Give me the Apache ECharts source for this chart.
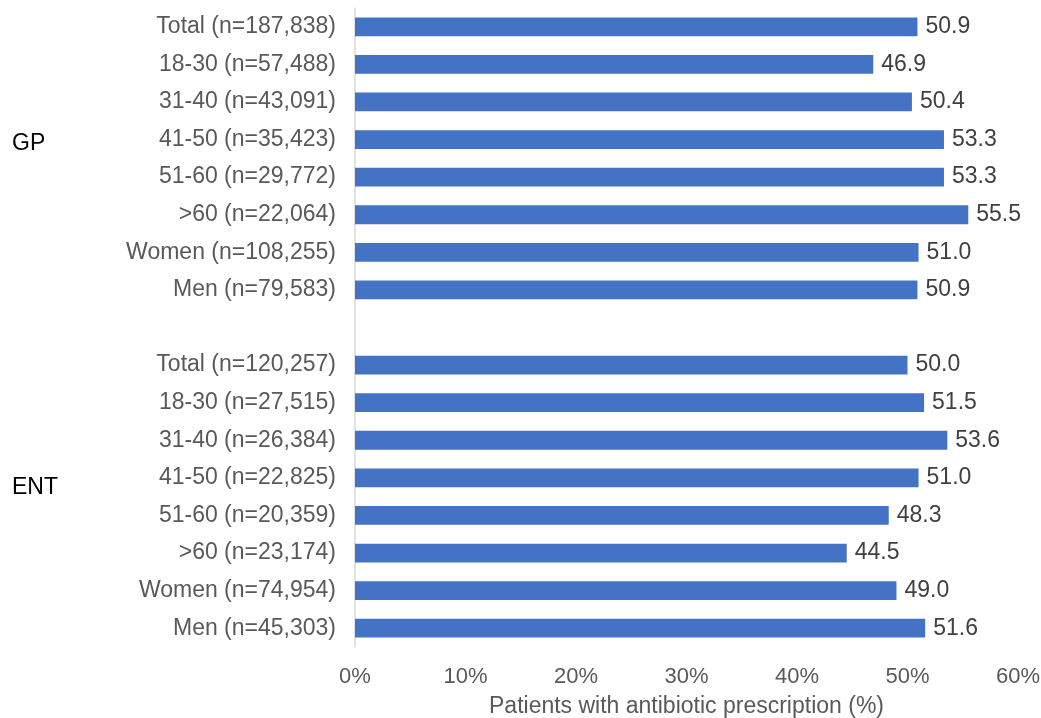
<!DOCTYPE html>
<html>
<head>
<meta charset="utf-8">
<style>html,body{margin:0;padding:0;background:#fff;}#chart{width:1041px;height:718px;}</style>
<script src="https://cdn.jsdelivr.net/npm/echarts@6/dist/echarts.min.js"></script>
</head>
<body>
<div id="chart"></div>
<script>
const gpCategories = ['Total (n=187,838)','18-30 (n=57,488)','31-40 (n=43,091)','41-50 (n=35,423)','51-60 (n=29,772)','>60 (n=22,064)','Women (n=108,255)','Men (n=79,583)'];
const gpValues = [50.9, 46.9, 50.4, 53.3, 53.3, 55.5, 51.0, 50.9];
const entCategories = ['Total (n=120,257)','18-30 (n=27,515)','31-40 (n=26,384)','41-50 (n=22,825)','51-60 (n=20,359)','>60 (n=23,174)','Women (n=74,954)','Men (n=45,303)'];
const entValues = [50.0, 51.5, 53.6, 51.0, 48.3, 44.5, 49.0, 51.6];
const groupLabels = ['GP', 'ENT'];
const xTicks = [0, 10, 20, 30, 40, 50, 60];
const axisTitle = 'Patients with antibiotic prescription (%)';

const categories = gpCategories.concat([''], entCategories);
const values = gpValues.concat(['-'], entValues);
const FONT = '"Liberation Sans", Arial, sans-serif';

const chart = echarts.init(document.getElementById('chart'));
chart.setOption({
  animation: false,
  grid: {left: 355, right: 23, top: 8, bottom: 71, containLabel: false, outerBoundsMode: 'none'},
  xAxis: {
    type: 'value', min: xTicks[0], max: xTicks[xTicks.length - 1], interval: 10,
    axisLine: {show: false}, axisTick: {show: false}, splitLine: {show: false},
    axisLabel: {formatter: '{value}%', color: '#595959', fontSize: 22, fontFamily: FONT, margin: 19},
    name: axisTitle, nameLocation: 'middle', nameGap: 48,
    nameTextStyle: {color: '#595959', fontSize: 23, fontFamily: FONT}
  },
  yAxis: {
    type: 'category', data: categories, inverse: true,
    axisLine: {show: true, lineStyle: {color: '#d9d9d9', width: 1.5}},
    axisTick: {show: false},
    axisLabel: {color: '#595959', fontSize: 23, fontFamily: FONT, margin: 19}
  },
  series: [{
    type: 'bar', data: values, barWidth: '50%',
    itemStyle: {color: '#4472C4'},
    label: {show: true, position: 'right', distance: 8, color: '#404040', fontSize: 23, fontFamily: FONT,
      formatter: p => Number(p.value).toFixed(1)}
  }],
  graphic: [
    {type: 'text', left: 12, top: 132, style: {text: groupLabels[0], fill: '#000', fontSize: 23, fontFamily: FONT}},
    {type: 'text', left: 12, top: 476, style: {text: groupLabels[1], fill: '#000', fontSize: 23, fontFamily: FONT}}
  ]
});
</script>
</body>
</html>
